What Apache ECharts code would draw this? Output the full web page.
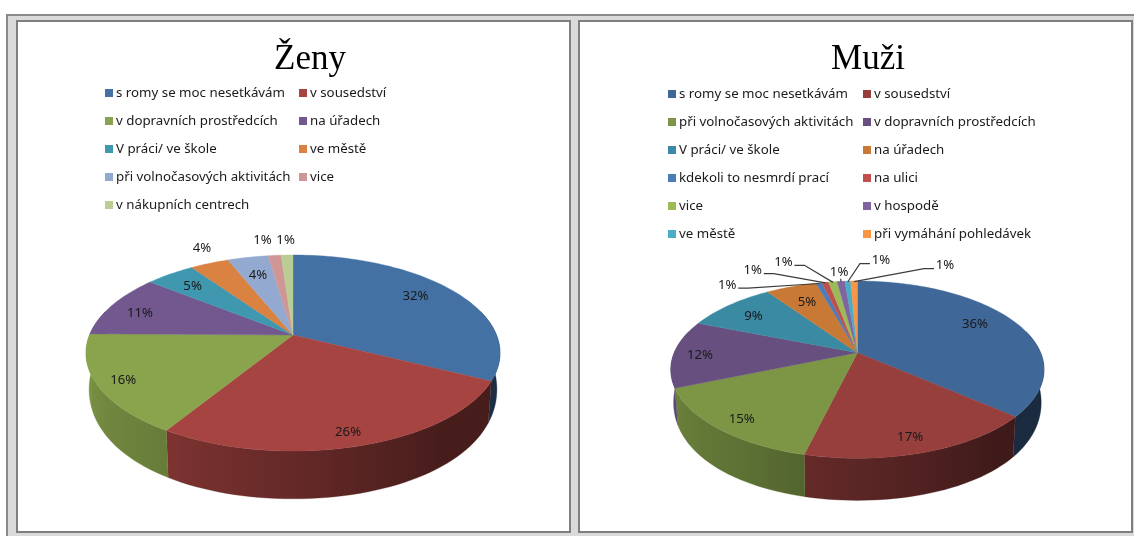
<!DOCTYPE html>
<html><head><meta charset="utf-8">
<style>html,body{margin:0;padding:0;background:#fff}#c{width:1134px;height:536px}</style>
<script src="https://cdn.jsdelivr.net/npm/echarts@6/dist/echarts.min.js"></script>
</head><body><div id="c"></div>
<script>
// ---- data ----
const womenCategories = ['s romy se moc nesetkávám','v sousedství','v dopravních prostředcích','na úřadech','V práci/ ve škole','ve městě','při volnočasových aktivitách','vice','v nákupních centrech'];
const womenValues = [32.4,26.4,16.4,10.5,4.6,3.6,3.8,1.2,1.1];
const menCategories = ['s romy se moc nesetkávám','v sousedství','při volnočasových aktivitách','v dopravních prostředcích','V práci/ ve škole','na úřadech','kdekoli to nesmrdí prací','na ulici','vice','v hospodě','ve městě','při vymáhání pohledávek'];
const menValues = [36.4,17.4,14.9,12.3,9.4,5.3,0.6,0.7,0.9,0.8,0.6,0.7];
// ---- styles / layout ----
const womenColors = ['#4471a4','#a64441','#89a44c','#72588f','#4097b0','#d98241','#94a9d0','#d09695','#b9cd94'];
const menColors = ['#3f6797','#963f3d','#7c9645','#67507f','#3a8aa3','#c87935','#4a7dba','#bf504d','#9bbb58','#8064a1','#4aacc5','#f79646'];
const womenLabelRadius = [.79,.89,.883,.82,.789,1.22,.743,1.243,1.23];
const womenLabelShift = [-2.8,1,-.9,-2.7,-.5,2.3,-.1,-2.4,-.1];
const menLabelRadius = [.774,.87,.872,.855,.778,.735,1.254,1.368,1.42,1.164,1.366,1.398];
const menLabelShift = [-3.1,1.5,-1.4,-1.5,-1.2,0,-27.5,-18.7,-11.7,.1,10.4,26.4];
const menLeaderSide = [0,0,0,0,0,0,-1,-1,-1,2,1,1]; // -1: label left of rim, 1: right, 2: below label
const panels = [
 {key:'Ženy',cats:womenCategories,vals:womenValues,cols:womenColors,lr:womenLabelRadius,ls:womenLabelShift,leader:null,
  ax:293,ay:335,A:203.5,B:94.7,k:.1837,wallB:120,wallOff:32,wallK:.09,titleX:305,legendX:[105,299],legendY:85},
 {key:'Muži',cats:menCategories,vals:menValues,cols:menColors,lr:menLabelRadius,ls:menLabelShift,leader:menLeaderSide,
  ax:857.4,ay:352.7,A:183.2,B:85.4,k:.191,wallB:108,wallOff:29,wallK:.09,titleX:863,legendX:[668,863],legendY:86}
];
const FONT='"Noto Sans",sans-serif';
function shade(hex,f){const n=parseInt(hex.slice(1),16);return 'rgb('+[(n>>16)&255,(n>>8)&255,n&255].map(c=>Math.round(c*f)).join(',')+')';}
function wallFactor(t){ // t in degrees clockwise from the top
  const pts=[[90,.42],[140,.42],[213,.76],[262,.9],[290,.92]];
  if(t<=pts[0][0])return pts[0][1];
  for(let i=1;i<pts.length;i++){if(t<=pts[i][0]){const a=pts[i-1],b=pts[i];return a[1]+(b[1]-a[1])*(t-a[0])/(b[0]-a[0]);}}
  return .92;
}
function topRim(p,t,f){f=f==null?1:f;const r=t*Math.PI/180,u=f*Math.sin(r),v=-f*Math.cos(r),w=1-p.k*v;return [p.ax+p.A*u/w,p.ay+p.B*v/w];}
function bottomRim(p,t){const r=t*Math.PI/180,u=Math.sin(r),v=-Math.cos(r),w=1-p.k*v;return [p.ax+.985*p.A*u/w,p.ay+p.wallOff+p.wallB*v/(1-p.wallK*v)];}
function wallPiece(p,color,a0,a1){
  const n=Math.max(2,Math.ceil((a1-a0)/2)),up=[],down=[],xs=[];
  for(let j=0;j<=n;j++){const t=a0+(a1-a0)*j/n,a=topRim(p,t),b=bottomRim(p,t);up.push(a);down.unshift(b);xs.push({x:(a[0]+b[0])/2,t});}
  const minX=Math.min(...xs.map(o=>o.x)),maxX=Math.max(...xs.map(o=>o.x)),span=Math.max(maxX-minX,1);
  const stops=xs.map(o=>({offset:(o.x-minX)/span,color:shade(color,wallFactor(o.t))})).sort((a,b)=>a.offset-b.offset);
  const fill=new echarts.graphic.LinearGradient(minX,0,maxX,0,stops,true);
  return {type:'polygon',z2:1,shape:{points:up.concat(down)},style:{fill:fill,stroke:shade(color,wallFactor((a0+a1)/2)),lineWidth:.3}};
}
const series=[],legends=[];
panels.forEach(p=>{
  const total=p.vals.reduce((a,b)=>a+b,0);let cum=0;
  p.cats.forEach((cat,i)=>{
    const start=cum/total*360;cum+=p.vals[i];const end=cum/total*360;const mid=(start+end)/2;
    series.push({type:'custom',coordinateSystem:'none',name:p.key+': '+cat,silent:true,
      itemStyle:{color:p.cols[i]},data:[[p.vals[i]]],
      renderItem:function(params,api){
        const kids=[];
        // side wall
        const a0=Math.max(start,75),a1=Math.min(end,285);
        if(a1>a0)kids.push(wallPiece(p,p.cols[i],a0,a1));
        // top face
        const pts=[[p.ax,p.ay]];const n=Math.max(2,Math.ceil((end-start)/1.5));
        for(let j=0;j<=n;j++)pts.push(topRim(p,start+(end-start)*j/n));
        kids.push({type:'polygon',z2:10,shape:{points:pts},style:{fill:p.cols[i],stroke:p.cols[i],lineWidth:.4}});
        // label
        const val=api.value(0);const lp=topRim(p,mid+p.ls[i],p.lr[i]);
        kids.push({type:'text',z2:20,style:{x:lp[0],y:lp[1],text:Math.round(val)+'%',align:'center',verticalAlign:'middle',font:'13.2px '+FONT,fill:'#1a1a1a'}});
        // leader line
        if(p.leader&&p.leader[i]){
          const s=p.leader[i],rim=topRim(p,mid,.99);let line;
          if(s===2)line=[[lp[0]+1.5,lp[1]+7],rim];
          else line=[[lp[0]-s*11,lp[1]+3],[lp[0]-s*21,lp[1]+3],rim];
          kids.push({type:'polyline',z2:15,shape:{points:line},style:{fill:null,stroke:'#3c3c3c',lineWidth:1.2}});
        }
        return {type:'group',children:kids};
      }});
  });
  // two-column legend
  [0,1].forEach(c=>{
    const names=[];
    p.cats.forEach((cat,i)=>{if(i%2===c)names.push(p.key+': '+cat);});
    legends.push({orient:'vertical',left:p.legendX[c],top:p.legendY,itemWidth:8,itemHeight:8,itemGap:12,padding:0,
      icon:'rect',selectedMode:false,data:names,formatter:n=>n.split(': ')[1],
      textStyle:{fontFamily:FONT,fontSize:13.3,color:'#1a1a1a',lineHeight:16,padding:[0,0,0,-2]}});
  });
});
const frame=[
 {type:'rect',z:-2,shape:{x:6,y:14,width:1128,height:522},style:{fill:'#dadada'}},
 {type:'polyline',z:-1,shape:{points:[[7,536],[7,15],[1134,15]]},style:{fill:null,stroke:'#8a8a8a',lineWidth:2}},
 {type:'rect',z:-1,shape:{x:17,y:21,width:553,height:511},style:{fill:'#fff',stroke:'#7f7f7f',lineWidth:2}},
 {type:'rect',z:-1,shape:{x:579,y:21,width:553,height:511},style:{fill:'#fff',stroke:'#7f7f7f',lineWidth:2}}
];
const chart=echarts.init(document.getElementById('c'),null,{renderer:'canvas'});
chart.setOption({animation:false,backgroundColor:'#fff',
  title:panels.map(p=>({text:p.key,left:p.titleX,top:37,textAlign:'center',textStyle:{fontFamily:'"Liberation Serif",serif',fontWeight:'normal',fontSize:35,color:'#000'}})),
  legend:legends,graphic:frame,series:series});
</script></body></html>
